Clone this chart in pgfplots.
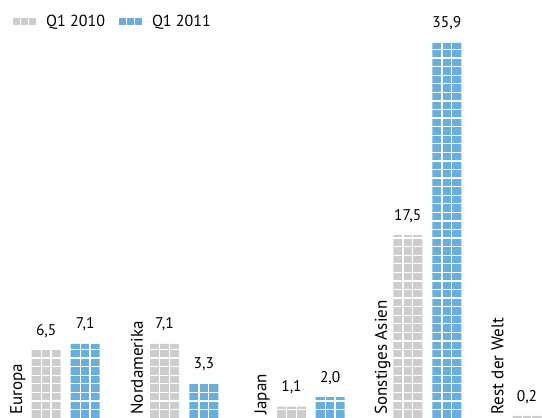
\documentclass[border=0pt]{standalone}
\usepackage{fontspec}
\setmainfont{PT Sans}
\usepackage{pgfplots}
\pgfplotsset{compat=1.18}
\usepackage{pgfplotstable}
\definecolor{gq}{RGB}{205,205,205}
\definecolor{bq}{RGB}{106,174,220}

\pgfplotstableread{
x y
46.2 6.5
164.5 7.1
291.5 1.1
407.8 17.5
527.0 0.2
}\qzehn
\pgfplotstableread{
x y
85.2 7.1
203.8 3.3
330.2 2.0
446.8 35.9
}\qelf

\pgfplotsset{
  frame/.style={scale only axis, width=542pt, height=418pt,
    xmin=0, xmax=542, ymin=0, ymax=40},
  vals/.style={ybar, bar width=29, bar shift=0pt, draw=none, fill=none, point meta=y,
    nodes near coords={\pgfmathprintnumber[fixed, fixed zerofill, precision=1, use comma]{\pgfplotspointmeta}},
    every node near coord/.append style={anchor=south, yshift=9pt,
      font=\fontsize{15.5}{18}\selectfont, text=black}},
}

\begin{document}
\begin{tikzpicture}
\begin{axis}[
  frame, axis on top,
  axis line style={draw=none}, tick style={draw=none},
  /pgf/number format/assume math mode=true,
  font=\fontsize{17}{20}\selectfont,
  xtick={18,137,262,382.5,497.5},
  xticklabels={Europa,Nordamerika,Japan,Sonstiges Asien,Rest der Welt},
  xticklabel style={rotate=90, anchor=west, font=\fontsize{17}{20}\selectfont},
  extra x ticks={41.4,51.0,159.7,169.3,286.7,296.3,403.0,412.6,522.2,531.8,80.4,90.0,199.0,208.6,325.4,335.0,442.0,451.6},
  extra x tick labels={},
  extra x tick style={grid=major},
  ytick={0.82,1.64,...,36.5}, yticklabels={},
  ymajorgrids,
  major grid style={white, line width=1.3pt},
  legend style={at={(rel axis cs:0,1)}, anchor=north west, xshift=10pt, yshift=-11pt,
    draw=none, fill=none, legend columns=2, font=\fontsize{16}{19}\selectfont,
    nodes={font=\fontsize{16}{19}\selectfont},
    /tikz/every even column/.append style={column sep=12pt}},
  legend cell align=left,
]
\addplot[ybar, bar width=29, bar shift=0pt, fill=gq, draw=none,
  legend image code/.code={\fill[gq] (0pt,-3.5pt) rectangle (7pt,3.5pt);
    \fill[gq] (8pt,-3.5pt) rectangle (15pt,3.5pt);
    \fill[gq] (16pt,-3.5pt) rectangle (23pt,3.5pt);
    \path (0pt,0pt) -- (31pt,0pt);}]
  table[x=x,y=y]{\qzehn};
\addlegendentry{Q1 2010}
\addplot[ybar, bar width=29, bar shift=0pt, fill=bq, draw=none,
  legend image code/.code={\fill[bq] (0pt,-3.5pt) rectangle (7pt,3.5pt);
    \fill[bq] (8pt,-3.5pt) rectangle (15pt,3.5pt);
    \fill[bq] (16pt,-3.5pt) rectangle (23pt,3.5pt);
    \path (0pt,0pt) -- (31pt,0pt);}]
  table[x=x,y=y]{\qelf};
\addlegendentry{Q1 2011}
\end{axis}
\begin{axis}[frame, hide axis, /pgf/number format/assume math mode=true]
\addplot[vals] table[x=x,y=y]{\qzehn};
\addplot[vals] table[x=x,y=y]{\qelf};
\end{axis}
\pgfresetboundingbox
\useasboundingbox (current axis.south west) rectangle (current axis.north east);
\end{tikzpicture}
\end{document}
